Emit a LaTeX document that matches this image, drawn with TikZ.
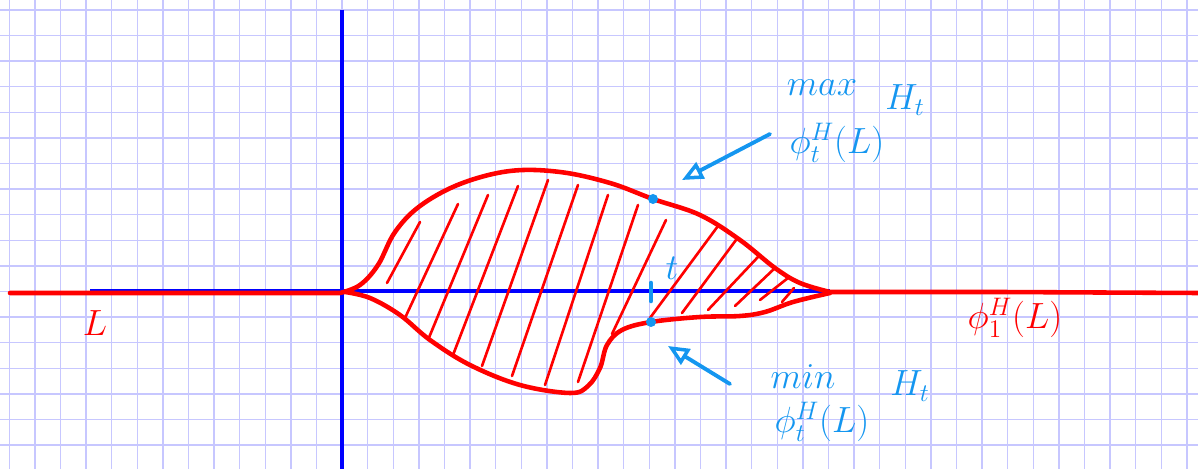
\documentclass[tikz,border=0pt]{standalone}
\usepackage{amsmath,amssymb}
\usepackage{tikz}
\usetikzlibrary{arrows.meta}
\usepackage{xcolor}
\definecolor{penblue}{RGB}{20,150,240}

\begin{document}
\begin{tikzpicture}[x=0.02cm,y=-0.02cm,
        gridline/.style={blue!22,line width=0.8pt},
        axis/.style={blue,line width=2.2pt},
        pen/.style={red,line width=2.6pt,line cap=round,line join=round},
        hatch/.style={red,line width=1.5pt,line cap=round},
        dot/.style={circle,fill=penblue,inner sep=0pt,minimum size=0.2cm},
        pointer/.style={penblue,line width=2.2pt,line cap=round,
            -{Triangle[open,length=0.42cm,width=0.36cm,line width=2pt]}},
        bluetext/.style={penblue,font=\fontsize{21}{24}\selectfont,inner sep=1pt},
        redtext/.style={red,font=\fontsize{21}{24}\selectfont,inner sep=1pt}]
        \useasboundingbox (0,0) rectangle (1198,469);
        % squared paper
        \foreach \i in {0,...,46}
            \draw[gridline] ({9.3+25.6*\i},0) -- ({9.3+25.6*\i},469);
        \foreach \j in {0,...,18}
            \draw[gridline] (0,{10+25.6*\j}) -- (1198,{10+25.6*\j});
        % axes
        \draw[axis] (342,10) -- (342,469);
        \draw[axis] (90,291) -- (830,291);
        % the Lagrangian and its image
        \draw[pen] (10,293) -- (340,293)
            plot[smooth,tension=0.6] coordinates {(340,293) (360,285) (378,265) (395,232) (420,206)
                (460,184) (510,171) (560,172) (610,183) (653,199) (700,215) (740,240)
                (775,268) (800,283) (830,292)}
            -- (1000,292) -- (1198,293);
        \draw[pen] plot[smooth,tension=0.6] coordinates {(345,292) (370,298) (400,315) (430,340)
                (470,365) (520,385) (570,393) (588,386) (600,368) (607,345) (622,330)
                (651,322) (700,317) (740,316) (765,312) (793,302) (830,293)};
        % hatching
        \draw[hatch] (387,283) -- (420,222);
        \draw[hatch] (405,318) -- (458,204);
        \draw[hatch] (428,340) -- (488,195);
        \draw[hatch] (453,355) -- (518,186);
        \draw[hatch] (482,366) -- (548,180);
        \draw[hatch] (512,376) -- (578,185);
        \draw[hatch] (545,385) -- (608,195);
        \draw[hatch] (578,382) -- (638,205);
        \draw[hatch] (612,334) -- (666,220);
        \draw[hatch] (650,318) -- (718,226);
        \draw[hatch] (682,313) -- (736,240);
        \draw[hatch] (708,310) -- (758,257);
        \draw[hatch] (735,306) -- (775,268);
        \draw[hatch] (760,300) -- (788,278);
        \draw[hatch] (782,302) -- (794,288);
        % max and min
        \node[dot] (top) at (653,199) {};
        \node[dot] (bottom) at (651,322) {};
        \coordinate (tick1) at (651,283);
        \coordinate (tick2) at (651,301);
        \draw[penblue,line width=2.6pt,line cap=round] (tick1) -- (tick2);
        \node[penblue,font=\fontsize{20}{24}\selectfont] (tlabel) at (672,268) {$t$};
        \coordinate (from1) at (770,134);
        \coordinate (to1) at (682,180);
        \draw[pointer] (from1) -- (to1);
        \coordinate (from2) at (730,384);
        \coordinate (to2) at (668,346);
        \draw[pointer] (from2) -- (to2);
        \node[bluetext] (maxlabel) at (822,88) {$max$};
        \node[bluetext] (hupper) at (905,100) {$H_t$};
        \node[bluetext] (phiupper) at (837,143) {$\phi_t^H(L)$};
        \node[bluetext] (minlabel) at (803,377) {$min$};
        \node[bluetext] (hlower) at (910,386) {$H_t$};
        \node[bluetext] (philower) at (822,422) {$\phi_t^H(L)$};
        \node[redtext] (llabel) at (95,323) {$L$};
        \node[redtext] (phione) at (1015,318) {$\phi_1^H(L)$};
\end{tikzpicture}
\end{document}
